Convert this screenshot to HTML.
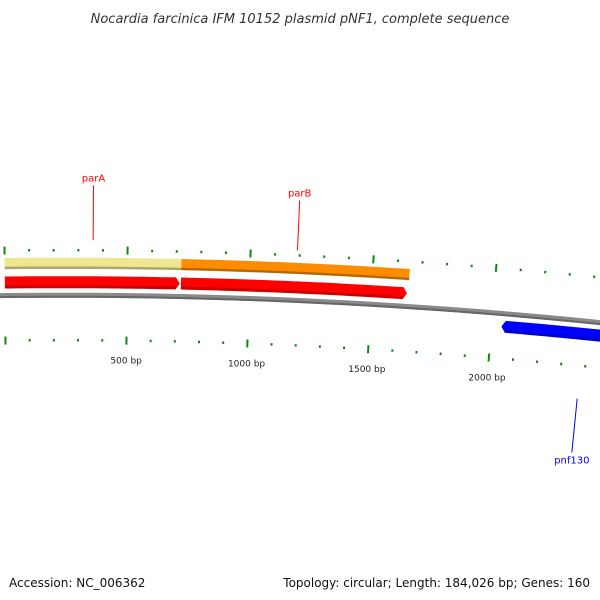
<!DOCTYPE html>
<html><head><meta charset="utf-8"><style>
body{margin:0;background:#fff;}
svg{display:block;font-family:"DejaVu Sans","Liberation Sans",sans-serif;}
</style></head><body>
<svg id="map" width="600" height="600" viewBox="0 0 600 600">
<text x="300" y="23" text-anchor="middle" font-size="13" font-style="italic" fill="#333">Nocardia farcinica IFM 10152 plasmid pNF1, complete sequence</text>
<text x="9" y="587" font-size="12" fill="#111">Accession: NC_006362</text>
<text x="590" y="587" text-anchor="end" font-size="12" fill="#111">Topology: circular; Length: 184,026 bp; Genes: 160</text>
<g id="layer"></g>
</svg>
<script>
const ringStarts = [0, 720];
const ringEnds = [720, 1650];
const ringColors = ["#efe68f", "#ff8c00"];
const geneStarts = [0, 720, 2041];
const geneEnds = [715, 1645, 2600];
const geneStrands = [1, 1, -1];
const geneColors = ["#ff0000", "#ff0000", "#0000ff"];
const tickValues = [0,100,200,300,400,500,600,700,800,900,1000,1100,1200,1300,1400,1500,1600,1700,1800,1900,2000,2100,2200,2300,2400,2500];
const tickLabels = ["500 bp","1000 bp","1500 bp","2000 bp"];
const tickLabelValues = [500,1000,1500,2000];
const geneLabels = ["parA","parB","pnf130"];
const geneLabelBp = [360, 1190, 2380];

const NS="http://www.w3.org/2000/svg";
const layer=document.getElementById('layer');
const CX=62, R=5300, CY=295.2+R;
function pt(bp,off){const x=5+bp*0.244;const th=(x-CX)/R;const r=R+off;return [CX+r*Math.sin(th),CY-r*Math.cos(th)];}
function mk(tag,attrs){const e=document.createElementNS(NS,tag);for(const k in attrs)e.setAttribute(k,attrs[k]);layer.appendChild(e);return e;}
function band(s,e,off,w){let a=[],b=[];for(let i=0;i<=30;i++){const bp=s+(e-s)*i/30;a.push(pt(bp,off+w/2));b.unshift(pt(bp,off-w/2));}return a.concat(b);}
function poly(p){return p.map(q=>q[0].toFixed(2)+','+q[1].toFixed(2)).join(' ');}

// backbone
let bb=band(-100,2700,0,5);
let e=mk('polygon',{points:poly(bb),fill:'#8a8a8a'});


e=mk('polygon',{points:poly(band(-100,2700,-1.5,2)),fill:'#666'});



// rings
for(let i=0;i<ringStarts.length;i++){
 e=mk('polygon',{points:poly(band(ringStarts[i],ringEnds[i],32,11)),fill:ringColors[i]});
 
 
 e=mk('polygon',{points:poly(band(ringStarts[i],ringEnds[i],27.5,2.5)),fill:'rgba(0,0,0,0.28)'});
 
 
}
// genes
for(let i=0;i<geneStarts.length;i++){
 const st=geneStrands[i], off=st>0?13:-13, w=12, head=16;
 let s=geneStarts[i], en=geneEnds[i];
 let a=[],b=[];
 if(st>0){const bs=en-head;for(let k=0;k<=30;k++){const bp=s+(bs-s)*k/30;a.push(pt(bp,off+w/2));b.unshift(pt(bp,off-w/2));}
  const p=a.concat([pt(en,off)]).concat(b);e=mk('polygon',{points:poly(p),fill:geneColors[i]});}
 else{const bs=s+head;for(let k=0;k<=30;k++){const bp=bs+(en-bs)*k/30;a.push(pt(bp,off+w/2));b.unshift(pt(bp,off-w/2));}
  const p=[pt(s,off)].concat(a).concat(b);e=mk('polygon',{points:poly(p),fill:geneColors[i]});}
 
 
 const s2=st>0?s:s+head, e2=st>0?en-head:en;
 e=mk('polygon',{points:poly(band(s2,e2,off-w/2+1.5,3)),fill:'rgba(0,0,0,0.2)'});
 
 
}
// ticks
for(const t of tickValues){
 const major=t%500===0;
 for(const side of [1,-1]){
  const base=side*45, len=major?8:2.5;
  const p1=pt(t,base-len/2), p2=pt(t,base+len/2);
  e=mk('line',{x1:p1[0],y1:p1[1],x2:p2[0],y2:p2[1],stroke:'#0a8a0a','stroke-width':2});
  
  
 }
}
for(let i=0;i<tickLabels.length;i++){
 const p=pt(tickLabelValues[i],-68);
 e=mk('text',{x:p[0],y:p[1],'text-anchor':'middle','font-size':9,fill:'#222'});
 e.textContent=tickLabels[i];
 
 
}
// gene labels
const labColors=["#ff0000","#ff0000","#0000ff"];
const labOff=[[110,55],[100,50],[-132,-78]];
for(let i=0;i<geneLabels.length;i++){
 const a=pt(geneLabelBp[i],labOff[i][1]), b=pt(geneLabelBp[i],labOff[i][0]);
 e=mk('line',{x1:a[0],y1:a[1],x2:b[0],y2:b[1],stroke:labColors[i],'stroke-width':1});
 
 
 const ty=labOff[i][0]>0?b[1]-4:b[1]+11;
 e=mk('text',{x:b[0],y:ty,'text-anchor':'middle','font-size':10,fill:labColors[i]});
 e.textContent=geneLabels[i];
 
 
}
</script>
</body></html>
